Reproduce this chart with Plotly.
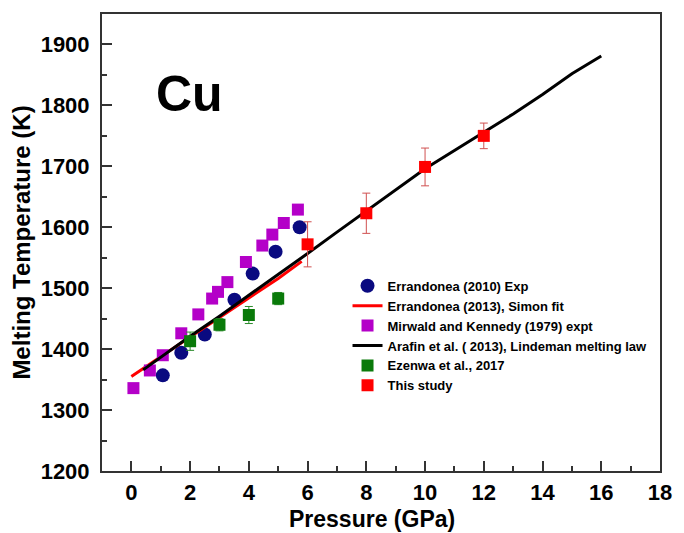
import plotly.graph_objects as go

# Errandonea (2010) Exp
err10_p = [1.07, 1.70, 2.50, 3.51, 4.13, 4.91, 5.73]
err10_t = [1357, 1394, 1424, 1481, 1524, 1560, 1600]

# Errandonea (2013), Simon fit
simon_p = [0.0, 1.0, 2.0, 3.0, 4.0, 5.0, 5.8]
simon_t = [1355, 1388, 1420, 1452, 1484, 1516, 1544]

# Mirwald and Kennedy (1979) expt
mir_p = [0.07, 0.63, 1.07, 1.70, 2.28, 2.75, 2.95, 3.27, 3.90, 4.46, 4.80, 5.19, 5.67]
mir_t = [1336, 1365, 1390, 1426, 1457, 1483, 1494, 1510, 1543, 1570, 1588, 1607, 1629]

# Arafin et al. (2013), Lindeman melting law
ara_p = [0.4, 1, 2, 3, 4, 5, 6, 7, 8, 9, 10, 11, 12, 13, 14, 15, 16]
ara_t = [1366, 1387, 1421, 1454, 1488, 1522, 1557, 1592, 1627, 1662, 1696, 1726, 1756, 1786, 1818, 1852, 1881]

# Ezenwa et al., 2017
eze_p = [2.0, 3.0, 4.0, 5.0]
eze_t = [1413, 1440, 1456, 1483]
eze_err = [15, 10, 14, 10]

# This study
this_p = [6.0, 8.0, 10.0, 12.0]
this_t = [1572, 1623, 1699, 1750]
this_err = [37, 33, 31, 21]

x_ticks = [0, 2, 4, 6, 8, 10, 12, 14, 16, 18]
y_ticks = [1200, 1300, 1400, 1500, 1600, 1700, 1800, 1900]

FONT = "Liberation Sans, Arial, sans-serif"

fig = go.Figure()
fig.add_trace(go.Scatter(x=err10_p, y=err10_t, mode="markers", name="Errandonea (2010) Exp",
                         marker=dict(symbol="circle", size=14, color="#0a0a80")))
fig.add_trace(go.Scatter(x=simon_p, y=simon_t, mode="lines", name="Errandonea (2013), Simon fit",
                         line=dict(color="#ff0000", width=3)))
fig.add_trace(go.Scatter(x=mir_p, y=mir_t, mode="markers", name="Mirwald and Kennedy (1979) expt",
                         marker=dict(symbol="square", size=12, color="#b400c8")))
fig.add_trace(go.Scatter(x=ara_p, y=ara_t, mode="lines", name="Arafin et al. ( 2013), Lindeman melting law",
                         line=dict(color="#000000", width=3)))
fig.add_trace(go.Scatter(x=eze_p, y=eze_t, mode="markers", name="Ezenwa et al., 2017",
                         marker=dict(symbol="square", size=12, color="#0a7a0a"),
                         error_y=dict(type="data", array=eze_err, color="#2a8a2a", thickness=1, width=4)))
fig.add_trace(go.Scatter(x=this_p, y=this_t, mode="markers", name="This study",
                         marker=dict(symbol="square", size=12, color="#ff0000"),
                         error_y=dict(type="data", array=this_err, color="#d05050", thickness=1, width=4)))

fig.add_annotation(text="Cu", x=0.157, y=0.825, xref="paper", yref="paper", showarrow=False,
                   xanchor="center", yanchor="middle",
                   font=dict(family=FONT, size=50, color="black", weight="bold"))
fig.add_annotation(text="Pressure (GPa)", x=0.484, y=-0.104, xref="paper", yref="paper",
                   showarrow=False, xanchor="center", yanchor="middle",
                   font=dict(family=FONT, size=23, color="black", weight="bold"))

fig.update_layout(
    width=684, height=533,
    margin=dict(l=102, r=14, t=14, b=62),
    paper_bgcolor="white", plot_bgcolor="white",
    font=dict(family=FONT, color="black"),
    showlegend=True,
    legend=dict(x=0.44, y=0.438, xanchor="left", yanchor="top", bgcolor="rgba(0,0,0,0)",
                font=dict(family=FONT, size=13, color="black", weight="bold"),
                tracegroupgap=0, itemwidth=30),
    xaxis=dict(range=[-1, 18], tickvals=x_ticks, ticks="inside", ticklen=10, tickwidth=2,
               tickcolor="#333", showline=True, linecolor="#333", linewidth=2, mirror=True,
               showgrid=False, zeroline=False, ticklabelstandoff=1,
               tickfont=dict(family=FONT, size=22, color="black", weight="bold"),
               minor=dict(dtick=1, tick0=0, ticks="inside", ticklen=5, tickwidth=2, tickcolor="#333")),
    yaxis=dict(range=[1200, 1950], tickvals=y_ticks, ticks="inside", ticklen=10, tickwidth=2,
               tickcolor="#333", showline=True, linecolor="#333", linewidth=2, mirror=True,
               showgrid=False, zeroline=False, ticklabelstandoff=6,
               tickfont=dict(family=FONT, size=22, color="black", weight="bold"),
               minor=dict(dtick=50, tick0=1200, ticks="inside", ticklen=5, tickwidth=2, tickcolor="#333"),
               title=dict(text="Melting Temperature (K)", standoff=3,
                          font=dict(family=FONT, size=24, color="black", weight="bold"))),
)

fig.write_html("out.html")
